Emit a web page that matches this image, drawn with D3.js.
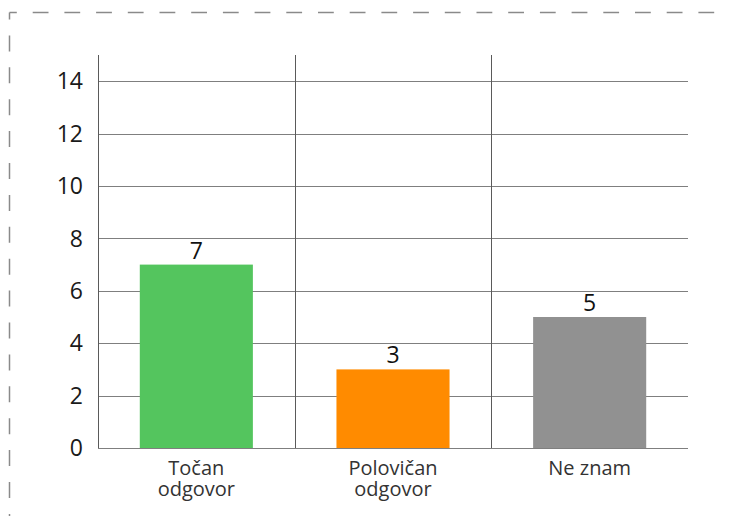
<!DOCTYPE html>
<html><head><meta charset="utf-8">
<script src="https://cdn.jsdelivr.net/npm/d3@7"></script>
<style>
html,body{margin:0;padding:0;background:#fff;}
svg{display:block;font-family:"Open Sans",sans-serif;}
</style></head>
<body>
<svg id="chart" width="730" height="516"></svg>
<script>
const categories = [["Točan","odgovor"],["Polovičan","odgovor"],["Ne znam"]];
const values = [7, 3, 5];
const colors = ["#54c55e", "#ff8b00", "#919191"];
const yTicks = [0, 2, 4, 6, 8, 10, 12, 14];

(function () {
const svg = d3.select("#chart");
const mLeft = 98, mRight = 688, mTop = 55, mBottom = 448;

// dashed frame
svg.append("line").attr("x1", 9.5).attr("x2", 760).attr("y1", 12.5).attr("y2", 12.5)
  .attr("stroke", "#8a8a8a").attr("stroke-width", 1.5)
  .attr("stroke-dasharray", "15.8,15.9").attr("stroke-dashoffset", 8.5);
svg.append("line").attr("x1", 9.5).attr("x2", 9.5).attr("y1", 12.5).attr("y2", 560)
  .attr("stroke", "#8a8a8a").attr("stroke-width", 1.5)
  .attr("stroke-dasharray", "16,15.9").attr("stroke-dashoffset", 9);

const keys = categories.map(c => c.join(" "));
const x = d3.scaleBand().domain(keys).range([mLeft, mRight]).padding(0);
const y = d3.scaleLinear().domain([0, 15]).range([mBottom, mTop]);

// horizontal grid
svg.append("g").selectAll("line").data(yTicks).join("line")
  .attr("x1", mLeft).attr("x2", mRight)
  .attr("y1", d => Math.round(y(d)) + 0.5).attr("y2", d => Math.round(y(d)) + 0.5)
  .attr("stroke", "#7f7f7f").attr("stroke-width", 1);

// vertical category separators
svg.append("g").selectAll("line").data(keys).join("line")
  .attr("x1", d => Math.round(x(d)) + 0.5).attr("x2", d => Math.round(x(d)) + 0.5)
  .attr("y1", mTop).attr("y2", mBottom)
  .attr("stroke", "#5a5a5a").attr("stroke-width", 1);

// y tick labels
svg.append("g").selectAll("text").data(yTicks).join("text")
  .attr("x", 83).attr("y", d => y(d)).attr("dy", "0.36em")
  .attr("text-anchor", "end").attr("font-size", 23).attr("fill", "#1a1a1a")
  .text(d => d);

// bars
const bw = x.bandwidth() * 0.575;
svg.append("g").selectAll("rect").data(values).join("rect")
  .attr("x", (d, i) => x(keys[i]) + (x.bandwidth() - bw) / 2)
  .attr("width", bw)
  .attr("y", d => y(d))
  .attr("height", d => y(0) - y(d))
  .attr("fill", (d, i) => colors[i]);

// value labels
svg.append("g").selectAll("text").data(values).join("text")
  .attr("x", (d, i) => x(keys[i]) + x.bandwidth() / 2)
  .attr("y", d => y(d) - 6)
  .attr("text-anchor", "middle").attr("font-size", 23).attr("fill", "#111")
  .text(d => d);

// category labels
const cl = svg.append("g").selectAll("text").data(categories).join("text")
  .attr("text-anchor", "middle").attr("font-size", 20).attr("fill", "#333")
  .attr("x", (d, i) => x(keys[i]) + x.bandwidth() / 2)
  .attr("y", 475);
cl.selectAll("tspan").data(d => d).join("tspan")
  .attr("x", function() { return this.parentNode.getAttribute("x"); })
  .attr("dy", (d, i) => i === 0 ? 0 : 21)
  .text(d => d);
})();
</script>
</body></html>
